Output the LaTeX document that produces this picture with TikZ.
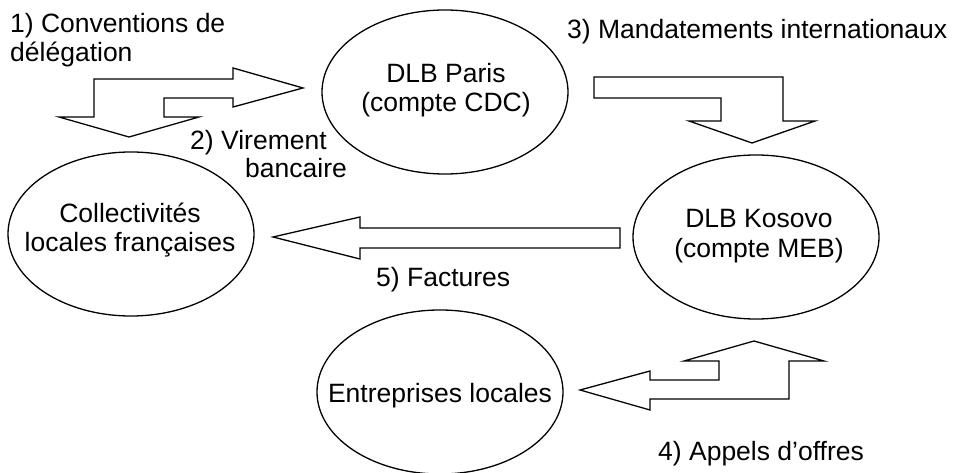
\documentclass[tikz,border=0pt]{standalone}
\usepackage{fontspec}
\setmainfont{Liberation Sans}
\usetikzlibrary{shapes.geometric}
\tikzset{
  blob/.style={ellipse, draw, line width=1.3pt, minimum width=246pt, minimum height=164pt, inner sep=0pt},
  txt/.style={font=\fontsize{26.5}{30}\selectfont, inner sep=0pt},
  blockarrow/.style={draw, line width=1.3pt, line join=miter, fill=white},
}
\begin{document}
\begin{tikzpicture}[x=1pt,y=-1pt]
\useasboundingbox (0,0) rectangle (954,473);
% ellipses
\node[blob] (paris) at (445,92) {};
\node[blob] (coll) at (131,234) {};
\node[blob] (kos) at (756,237) {};
\node[blob] (entr) at (440,392) {};
% ellipse texts
\node[txt, anchor=base] (parisA) at (446,83) {DLB Paris};
\node[txt, anchor=base] (parisB) at (446,112) {(compte CDC)};
\node[txt, anchor=base] (collA) at (130,223) {Collectivités};
\node[txt, anchor=base] (collB) at (130,252) {locales françaises};
\node[txt, anchor=base] (kosA) at (759,228) {DLB Kosovo};
\node[txt, anchor=base] (kosB) at (759,258) {(compte MEB)};
\node[txt, anchor=base] (entrA) at (440,402) {Entreprises locales};
% block arrows
\draw[blockarrow] (94,117) -- (94,79) -- (233,79) -- (233,68) -- (303,88) -- (233,107) -- (233,98) -- (164,98) -- (164,117) -- (199,117) -- (129,137) -- (59,117) -- cycle;
\draw[blockarrow] (594,77) -- (783,77) -- (783,121) -- (815,121) -- (752,143) -- (689,121) -- (721,121) -- (721,98) -- (594,98) -- cycle;
\draw[blockarrow] (273,237) -- (360,217) -- (360,228) -- (620,228) -- (620,248) -- (360,248) -- (360,259) -- cycle;
\draw[blockarrow] (789,361) -- (789,399) -- (650,399) -- (650,410) -- (580,390) -- (650,371) -- (650,380) -- (719,380) -- (719,361) -- (684,361) -- (754,341) -- (824,361) -- cycle;
% labels
\node[txt, anchor=base west] (l1a) at (10,33) {1) Conventions de};
\node[txt, anchor=base west] (l1b) at (10,62) {délégation};
\node[txt, anchor=base west] (l2a) at (190,150) {2) Virement};
\node[txt, anchor=base west] (l2b) at (245,178) {bancaire};
\node[txt, anchor=base west] (l3) at (567,39) {3) Mandatements internationaux};
\node[txt, anchor=base west] (l5) at (376,287) {5) Factures};
\node[txt, anchor=base west] (l4) at (658,460) {4) Appels d’offres};
\end{tikzpicture}
\end{document}
